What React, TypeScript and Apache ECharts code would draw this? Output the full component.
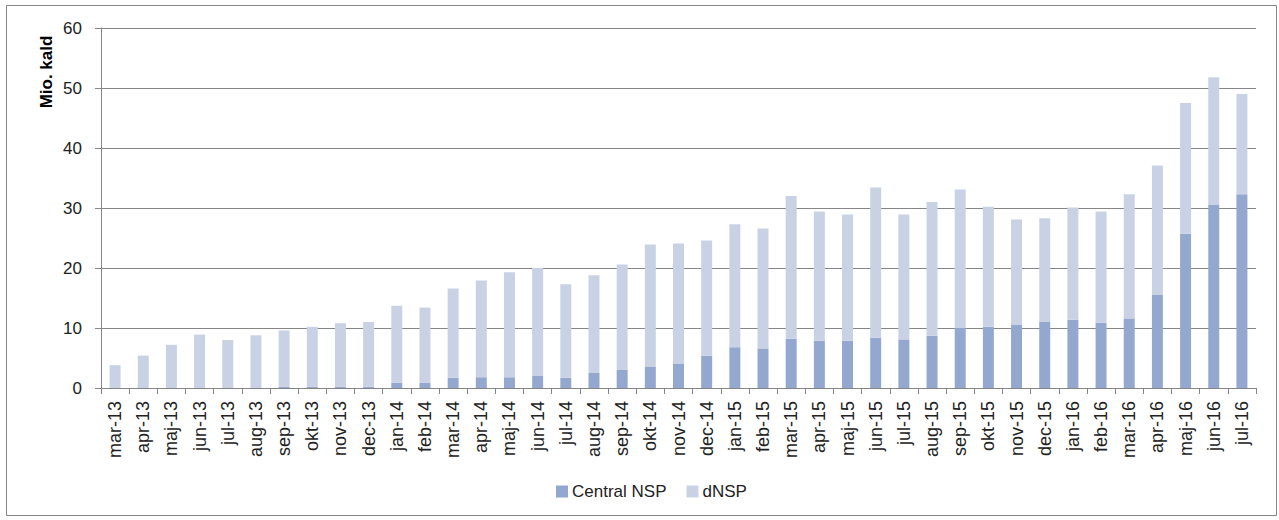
import React, { useEffect, useRef } from "react";
import * as echarts from "echarts";

const categories = [
  "mar-13", "apr-13", "maj-13", "jun-13", "jul-13", "aug-13", "sep-13", "okt-13", "nov-13", "dec-13",
  "jan-14", "feb-14", "mar-14", "apr-14", "maj-14", "jun-14", "jul-14", "aug-14", "sep-14", "okt-14",
  "nov-14", "dec-14", "jan-15", "feb-15", "mar-15", "apr-15", "maj-15", "jun-15", "jul-15", "aug-15",
  "sep-15", "okt-15", "nov-15", "dec-15", "jan-16", "feb-16", "mar-16", "apr-16", "maj-16", "jun-16",
  "jul-16",
];

const centralNSP = [
  0, 0, 0, 0, 0, 0, 0.2, 0.2, 0.2, 0.2,
  0.9, 0.9, 1.7, 1.8, 1.8, 2.0, 1.7, 2.5, 3.0, 3.5,
  4.0, 5.4, 6.8, 6.6, 8.2, 7.9, 7.9, 8.4, 8.1, 8.7,
  10.0, 10.2, 10.5, 11.0, 11.4, 10.9, 11.6, 15.5, 25.7, 30.6,
  32.3,
];

const dNSP = [
  3.8, 5.4, 7.2, 8.9, 8.0, 8.8, 9.4, 10.0, 10.6, 10.8,
  12.8, 12.5, 14.9, 16.1, 17.5, 18.0, 15.6, 16.3, 17.6, 20.4,
  20.1, 19.2, 20.5, 20.0, 23.8, 21.5, 21.0, 25.0, 20.8, 22.3,
  23.1, 20.0, 17.6, 17.3, 18.7, 18.5, 20.7, 21.6, 21.8, 21.2,
  16.7,
];

const yAxisTitle = "Mio. kald";

const FONT = "'Liberation Sans', Arial, sans-serif";

export default function App() {
  const ref = useRef<HTMLDivElement>(null);
  useEffect(() => {
    if (!ref.current) return;
    const chart = echarts.init(ref.current, undefined, { renderer: "svg" });
    chart.setOption({
      animation: false,
      backgroundColor: "#ffffff",
      textStyle: { fontFamily: FONT },
      graphic: [
        {
          type: "rect",
          shape: { x: 6.5, y: 5.5, width: 1270, height: 510 },
          style: { fill: "none", stroke: "#868686", lineWidth: 1 },
          silent: true,
        },
        {
          type: "text",
          x: 46,
          y: 72,
          rotation: Math.PI / 2,
          style: {
            text: yAxisTitle,
            fill: "#000",
            font: "bold 17px " + FONT,
            align: "center",
            verticalAlign: "middle",
          },
          silent: true,
        },
      ],
      legend: {
        bottom: 15,
        left: 551,
        itemWidth: 12,
        itemHeight: 12,
        itemGap: 20,
        icon: "rect",
        textStyle: { fontSize: 17, color: "#222", fontFamily: FONT, padding: [0, 0, 0, -1] },
        data: ["Central NSP", "dNSP"],
      },
      grid: { left: 101, right: 23, top: 28, bottom: 132, containLabel: false },
      xAxis: {
        type: "category",
        data: categories,
        axisLine: { lineStyle: { color: "#868686" } },
        axisTick: { show: true, length: 6, lineStyle: { color: "#868686" } },
        axisLabel: { rotate: 90, fontSize: 18, color: "#222", margin: 13, fontFamily: FONT },
      },
      yAxis: {
        type: "value",
        min: 0,
        max: 60,
        interval: 10,
        axisLine: { show: true, lineStyle: { color: "#868686" } },
        axisTick: { show: true, length: 6, lineStyle: { color: "#868686" } },
        axisLabel: { fontSize: 17, color: "#222", margin: 19, fontFamily: FONT },
        splitLine: { lineStyle: { color: "#868686", width: 1 } },
      },
      series: [
        {
          name: "Central NSP",
          type: "bar",
          stack: "total",
          data: centralNSP,
          barWidth: "39%",
          itemStyle: { color: "#94A8CF" },
        },
        {
          name: "dNSP",
          type: "bar",
          stack: "total",
          data: dNSP,
          barWidth: "39%",
          itemStyle: { color: "#C9D2E5" },
        },
      ],
    });
    return () => chart.dispose();
  }, []);
  return (
    <div style={{ position: "absolute", left: 0, top: 0 }}>
      <div ref={ref} style={{ width: 1279, height: 520 }} />
    </div>
  );
}
